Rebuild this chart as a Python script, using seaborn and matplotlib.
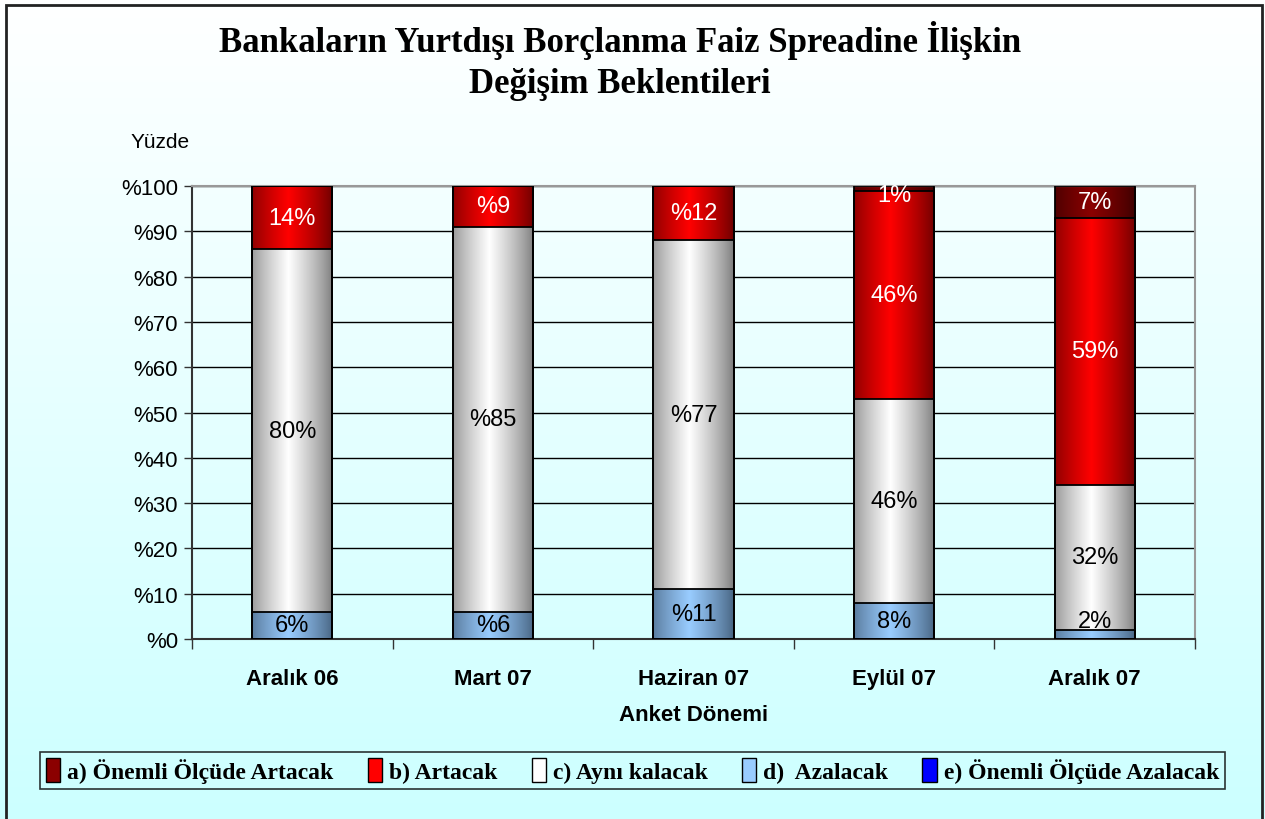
import numpy as np
import pandas as pd
import seaborn as sns
import matplotlib.pyplot as plt
from matplotlib.colors import to_rgb
from matplotlib.patches import Patch, Rectangle

# data
donemler = ["Aralık 06", "Mart 07", "Haziran 07", "Eylül 07", "Aralık 07"]
onemli_artacak = [0, 0, 0, 1, 7]
artacak = [14, 9, 12, 46, 59]
ayni_kalacak = [80, 85, 77, 45, 32]
azalacak = [6, 6, 11, 8, 2]
onemli_azalacak = [0, 0, 0, 0, 0]

etiket_a = ["", "", "", "1%", "7%"]
etiket_b = ["14%", "%9", "%12", "46%", "59%"]
etiket_c = ["80%", "%85", "%77", "46%", "32%"]
etiket_d = ["6%", "%6", "%11", "8%", "2%"]

seri_adlari = ["a) Önemli Ölçüde Artacak", "b) Artacak", "c) Aynı kalacak",
               "d)  Azalacak", "e) Önemli Ölçüde Azalacak"]

df = pd.DataFrame({
    "donem": donemler,
    "a": onemli_artacak, "b": artacak, "c": ayni_kalacak,
    "d": azalacak, "e": onemli_azalacak,
})

# (center colour, edge colour) for the bar shading
renkler = {
    "a": ("#8B0000", "#3A0000"),
    "b": ("#FF0000", "#6A0000"),
    "c": ("#FFFFFF", "#7A7A7A"),
    "d": ("#99CCFF", "#46627F"),
    "e": ("#0000FF", "#000080"),
}
yazi_renk = {"a": "white", "b": "white", "c": "black", "d": "black"}

sns.set_style("white")
plt.rcParams["font.family"] = ["Liberation Sans", "DejaVu Sans"]
plt.rcParams.update({"text.color": "black", "axes.labelcolor": "black",
                     "xtick.color": "black", "ytick.color": "black"})

fig = plt.figure(figsize=(12.65, 8.2), dpi=100)

# figure background: white at top fading to light cyan
bg = fig.add_axes([0, 0, 1, 1], zorder=-10)
grad = np.linspace(0, 1, 256)[:, None]
top, bot = np.array(to_rgb("#FFFFFF")), np.array(to_rgb("#CCFFFF"))
bg.imshow(top + (bot - top) * grad[..., None], aspect="auto", extent=[0, 1, 0, 1])
bg.set_axis_off()
fig.patches.append(Rectangle((6 / 1265, -0.01), 1256 / 1265, 1 - 6 / 820 + 0.01,
                             transform=fig.transFigure, fill=False,
                             edgecolor="#222222", linewidth=2))

ax = fig.add_axes([192 / 1265, 1 - 640 / 820, 1003 / 1265, 453 / 820])
ax.patch.set_alpha(0)

# cumulative stacks drawn from the top down so each layer covers the next
katman = ["a", "b", "c", "d"]
kum = df[["d", "c", "b", "a"]].cumsum(axis=1)
yukseklik = {"d": kum["d"], "c": kum["c"], "b": kum["b"], "a": kum["a"]}

z = 2
for k in katman:
    sns.barplot(x=df["donem"], y=yukseklik[k], order=donemler, color=renkler[k][0],
                width=0.4, ax=ax, zorder=z, edgecolor="none", linewidth=0)
    z += 2

t = np.linspace(0, 1, 200)
prof = np.clip(1 - np.abs(t - 0.45) / 0.55, 0, 1) ** 0.8
for i, k in enumerate(katman):
    c0, c1 = np.array(to_rgb(renkler[k][0])), np.array(to_rgb(renkler[k][1]))
    img = (c1 + (c0 - c1) * prof[:, None])[None, :, :]
    for p in ax.containers[i].patches:
        if p.get_height() <= 0:
            continue
        x0, w, h = p.get_x(), p.get_width(), p.get_height()
        im = ax.imshow(img, extent=[x0, x0 + w, 0, h], aspect="auto",
                       zorder=p.get_zorder() + 0.5)
        im.set_clip_path(p)
        ax.add_patch(Rectangle((x0, 0), w, h, fill=False, edgecolor="black",
                               linewidth=1.3, zorder=20))

# segment labels centred in each segment
etiketler = {"a": etiket_a, "b": etiket_b, "c": etiket_c, "d": etiket_d}
alt = {"d": [0] * 5, "c": kum["d"], "b": kum["c"], "a": kum["b"]}
for k in katman:
    deger = df[k].values
    for j in range(len(donemler)):
        if not etiketler[k][j]:
            continue
        y = alt[k][j] + deger[j] / 2
        if k == "d" and deger[j] < 4:
            y = alt[k][j] + 4
        if k == "a" and deger[j] < 4:
            y = 98.0
        ax.text(j, y, etiketler[k][j], ha="center", va="center", fontsize=17,
                color=yazi_renk[k], zorder=25)

ax.set_xlim(-0.5, 4.5)
ax.set_ylim(0, 100)
ax.set_yticks(range(0, 101, 10))
ax.set_yticklabels([f"%{v}" for v in range(0, 101, 10)], fontsize=16)
ax.yaxis.grid(True, color="black", linewidth=1)
ax.set_axisbelow(True)
ax.tick_params(axis="y", length=6, width=1, color="#333333", pad=4, left=True)

ax.set_xticks(range(5))
ax.set_xticklabels(donemler, fontsize=16, fontweight="bold")
ax.set_xticks(np.arange(-0.5, 5, 1), minor=True)
ax.tick_params(axis="x", which="major", length=0, pad=21)
ax.tick_params(axis="x", which="minor", length=7, width=1, color="#333333",
               bottom=True, direction="out")
ax.set_xlabel("Anket Dönemi", fontsize=16, fontweight="bold", labelpad=11)
ax.set_ylabel("")

for s in ["left", "bottom"]:
    ax.spines[s].set_color("#333333")
    ax.spines[s].set_linewidth(1.5)
for s in ["top", "right"]:
    ax.spines[s].set_color("#999999")
    ax.spines[s].set_linewidth(1.5)

fig.text(160 / 1265, 1 - 143 / 820, "Yüzde", fontsize=15, ha="center", va="center")

fig.text(0.49, 1 - 61 / 820,
         "Bankaların Yurtdışı Borçlanma Faiz Spreadine İlişkin\nDeğişim Beklentileri",
         ha="center", va="center", fontsize=25, fontweight="bold",
         family=["Liberation Serif", "DejaVu Serif"], linespacing=1.35)

handles = [Patch(facecolor=renkler[k][0], edgecolor="black", linewidth=1)
           for k in ["a", "b", "c", "d", "e"]]
leg = fig.legend(handles, seri_adlari, loc="lower left", ncol=5,
                 bbox_to_anchor=(40 / 1265, 30 / 820, 1185 / 1265, 38 / 820),
                 mode="expand", frameon=True, fancybox=False, edgecolor="black",
                 handlelength=0.6, handleheight=1.2, handletextpad=0.3,
                 borderaxespad=0, columnspacing=0.8, borderpad=0.25,
                 prop={"family": ["Liberation Serif", "DejaVu Serif"],
                       "weight": "bold", "size": 17})
leg.get_frame().set_facecolor("none")
leg.get_frame().set_linewidth(1.2)

fig.savefig("out.png", dpi=100)
